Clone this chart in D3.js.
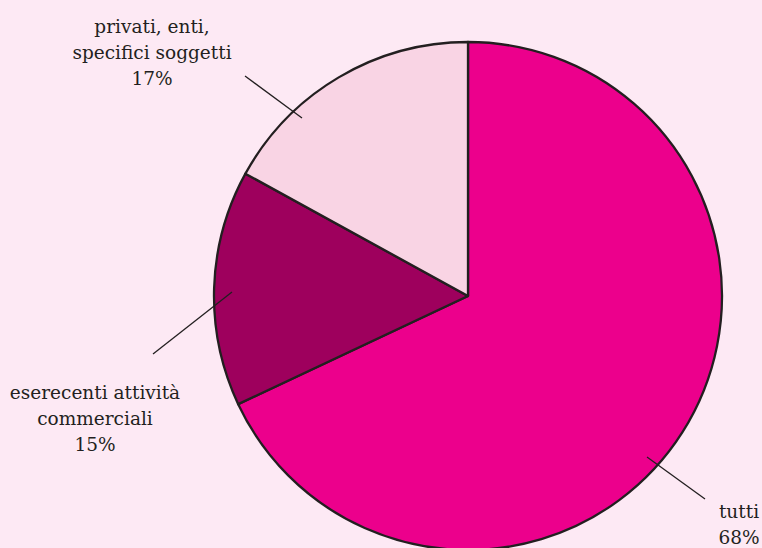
<!DOCTYPE html>
<html>
<head>
<meta charset="utf-8">
<script src="https://cdn.jsdelivr.net/npm/d3@7"></script>
<style>
  html, body { margin: 0; padding: 0; background: #fde9f4; }
  svg { display: block; }
  text { font-family: "DejaVu Serif", Georgia, serif; fill: #231f20; }
</style>
</head>
<body>
<svg id="chart" width="762" height="548"></svg>
<script>
// Shares by category
const categories = ["tutti", "eserecenti attività commerciali", "privati, enti, specifici soggetti"];
const shares = [68, 15, 17];
const labelLines = [["tutti"], ["eserecenti attività", "commerciali"], ["privati, enti,", "specifici soggetti"]];
const colors = ["#ec008c", "#9e005d", "#f9d4e4"];

// Label placement relative to the pie centre: leader line end points and text anchor
const labelLayout = [
  { inner: [179, 161], outer: [237, 203], text: [271, 222] },
  { inner: [-236, -4], outer: [-315, 58], text: [-373, 103] },
  { inner: [-166, -178], outer: [-223, -220], text: [-316, -263] }
];

const width = 762, height = 548;
const cx = 468, cy = 296, radius = 254;
const lineHeight = 26;

const svg = d3.select("#chart");
svg.append("rect").attr("width", width).attr("height", height).attr("fill", "#fde9f4");

const data = categories.map((c, i) => ({ name: c, value: shares[i], lines: labelLines[i], color: colors[i], layout: labelLayout[i] }));

const pie = d3.pie().value(d => d.value).sort(null);
const arc = d3.arc().innerRadius(0).outerRadius(radius);

const g = svg.append("g").attr("transform", `translate(${cx},${cy})`);

g.selectAll("path.slice")
  .data(pie(data))
  .join("path")
  .attr("class", "slice")
  .attr("d", arc)
  .attr("fill", d => d.data.color)
  .attr("stroke", "#231f20")
  .attr("stroke-width", 2.3)
  .attr("stroke-linejoin", "round");

// leader lines
g.selectAll("line.leader")
  .data(data)
  .join("line")
  .attr("class", "leader")
  .attr("x1", d => d.layout.inner[0])
  .attr("y1", d => d.layout.inner[1])
  .attr("x2", d => d.layout.outer[0])
  .attr("y2", d => d.layout.outer[1])
  .attr("stroke", "#231f20")
  .attr("stroke-width", 1.3);

// labels: category name lines followed by the percentage
const labels = g.selectAll("text.label")
  .data(data)
  .join("text")
  .attr("class", "label")
  .attr("text-anchor", "middle")
  .attr("font-size", 18.5)
  .attr("transform", d => `translate(${d.layout.text[0]},${d.layout.text[1]})`);

labels.each(function(d) {
  const t = d3.select(this);
  const rows = d.lines.concat([d3.format(".0f")(d.value) + "%"]);
  rows.forEach((r, i) => {
    t.append("tspan").attr("x", 0).attr("y", i * lineHeight).text(r);
  });
});
</script>
</body>
</html>
